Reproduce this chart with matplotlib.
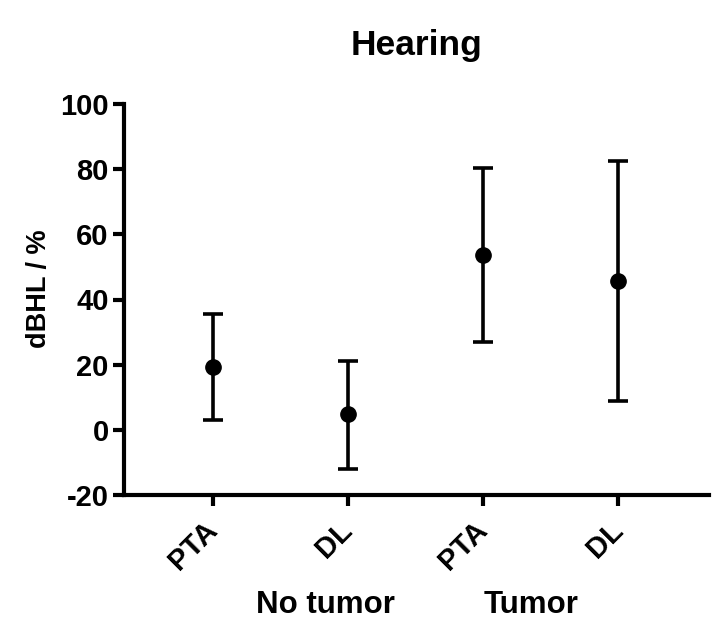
import matplotlib
matplotlib.use("Agg")
import matplotlib.pyplot as plt
import matplotlib.transforms as mtransforms

plt.rcParams['font.family'] = ['Liberation Sans', 'DejaVu Sans']
plt.rcParams['font.weight'] = 'bold'
plt.rcParams['axes.unicode_minus'] = False

categories = ["PTA", "DL", "PTA", "DL"]
groups = ["No tumor", "Tumor"]
means = [19.2, 4.9, 53.7, 45.8]
upper = [35.4, 21.2, 80.5, 82.6]
lower = [3.0, -11.9, 26.9, 8.7]
yticks = [-20, 0, 20, 40, 60, 80, 100]

x = list(range(len(categories)))
err_low = [m - l for m, l in zip(means, lower)]
err_high = [u - m for m, u in zip(means, upper)]

fig = plt.figure(figsize=(7.26, 6.33), dpi=100)
ax = fig.add_axes([124/726, 1 - 495/633, (709-124)/726, (495-104)/633])

ax.errorbar(x, means, yerr=[err_low, err_high], fmt='o', color='black',
            ecolor='black', elinewidth=2.6, capsize=7, capthick=2.6,
            markersize=11, zorder=3)

ax.set_xlim(-0.66, 3.67)
ax.set_ylim(-20, 100)
ax.set_yticks(yticks)
ax.set_xticks(x)
ax.set_xticklabels(categories, rotation=45, ha='right', va='center',
                   rotation_mode='anchor')

for s in ['top', 'right']:
    ax.spines[s].set_visible(False)
for s in ['left', 'bottom']:
    ax.spines[s].set_linewidth(3)

ax.tick_params(axis='both', width=3, length=8)
ax.tick_params(axis='y', labelsize=21, pad=3)
ax.tick_params(axis='x', labelsize=21, pad=14)

ax.set_ylabel("dBHL / %", fontsize=19.5, fontweight='bold')
ax.yaxis.set_label_coords(-0.123, 0.527)
ax.set_title("Hearing", fontsize=25.5, fontweight='bold', pad=35)

trans = mtransforms.blended_transform_factory(ax.transData, ax.transAxes)
group_x = [0.83, 2.35]
for gx, g in zip(group_x, groups):
    ax.text(gx, -0.281, g, transform=trans, ha='center', va='center',
            fontsize=22.5, fontweight='bold')

fig.savefig("out.png", dpi=100)
